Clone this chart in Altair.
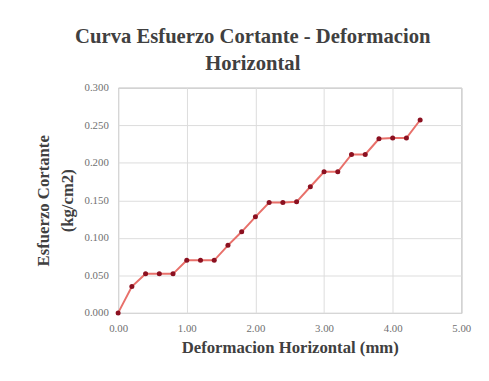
import altair as alt
import pandas as pd

deformacion = [0.0, 0.2, 0.4, 0.6, 0.8, 1.0, 1.2, 1.4, 1.6, 1.8, 2.0, 2.2,
               2.4, 2.6, 2.8, 3.0, 3.2, 3.4, 3.6, 3.8, 4.0, 4.2, 4.4]
esfuerzo = [0.000, 0.035, 0.052, 0.052, 0.052, 0.070, 0.070, 0.070, 0.090,
            0.108, 0.128, 0.147, 0.147, 0.148, 0.168, 0.188, 0.188, 0.211,
            0.211, 0.232, 0.233, 0.233, 0.257]
x_ticks = [0, 1, 2, 3, 4, 5]
y_ticks = [0.0, 0.05, 0.10, 0.15, 0.20, 0.25, 0.30]

df = pd.DataFrame({"x": deformacion, "y": esfuerzo})

FONT = "Liberation Serif"

x_enc = alt.X("x:Q", scale=alt.Scale(domain=[0, 5], nice=False),
              axis=alt.Axis(values=x_ticks, format=".2f", labelFlush=False,
                            title="Deformacion Horizontal  (mm)", titlePadding=6))
y_enc = alt.Y("y:Q", scale=alt.Scale(domain=[0, 0.3], nice=False),
              axis=alt.Axis(values=y_ticks, format=".3f", titlePadding=8, labelFlush=False,
                            title=["Esfuerzo Cortante", "(kg/cm2)"]))

line = alt.Chart(df).mark_line(color="#e8706a", strokeWidth=2).encode(x=x_enc, y=y_enc)
pts = alt.Chart(df).mark_point(filled=True, color="#8b1020", size=26, opacity=1).encode(x=x_enc, y=y_enc)

chart = (line + pts).properties(
    width=349, height=229,
    title=alt.Title(["Curva Esfuerzo Cortante - Deformacion", "Horizontal"],
                    font=FONT, fontSize=21, fontWeight="bold", color="#404040",
                    anchor="middle", frame="bounds", offset=8, lineHeight=27),
    padding={"left": 27, "top": 16, "right": 10, "bottom": 10},
).configure_axis(
    labelFont=FONT, labelFontSize=11, labelColor="#707070",
    titleFont=FONT, titleFontSize=17, titleFontWeight="bold", titleColor="#404040",
    titleLineHeight=24,
    gridColor="#dcdcdc", domain=False, ticks=False, labelPadding=10,
).configure_view(
    stroke="#a0a0a0", strokeWidth=1
)

chart.save("out.html", embed_options={"renderer": "svg", "actions": False})
